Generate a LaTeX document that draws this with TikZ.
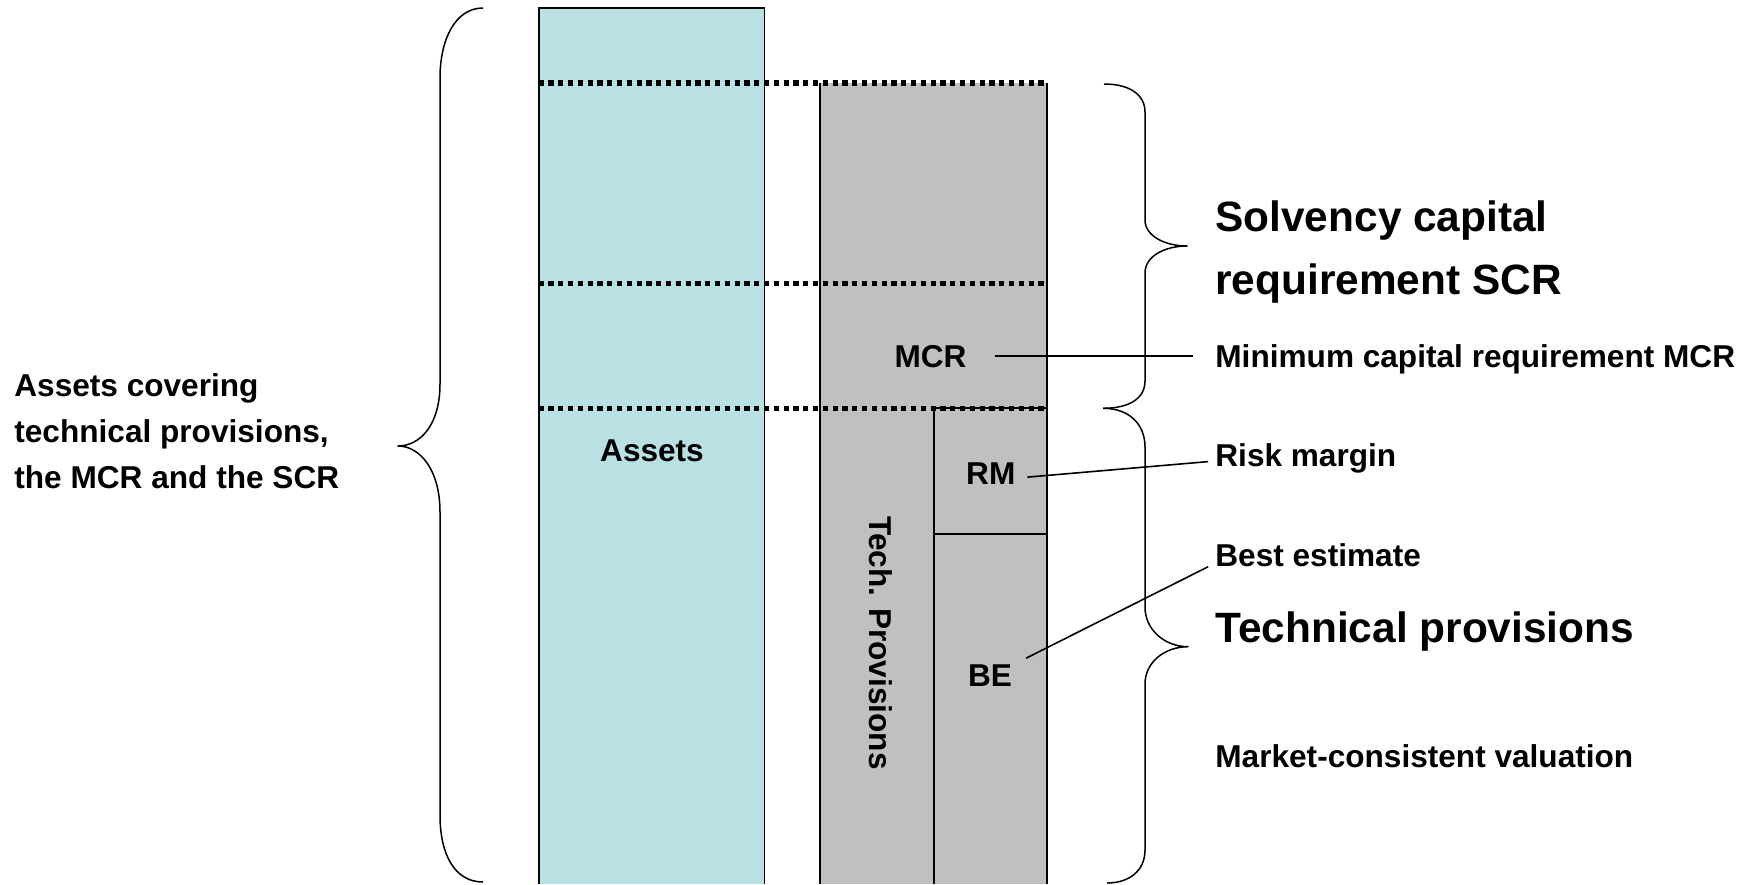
\documentclass[tikz,border=0pt]{standalone}
\usepackage{fontspec}
\setmainfont{Liberation Sans}
\definecolor{assetblue}{RGB}{185,224,227}
\definecolor{provgray}{RGB}{192,192,192}
\tikzset{
boxtext/.style={ % labels inside and beside the columns
font=\fontsize{15.8}{22.9}\selectfont\bfseries,
inner sep=0pt},
sidetext/.style={boxtext, anchor=base west},
headtext/.style={ % the two big headings on the right
font=\fontsize{21.2}{31.5}\selectfont\bfseries,
inner sep=0pt, anchor=base west, align=left},
leader/.style={draw, line width=0.8pt},
cutline/.style={line width=2.6pt, dash pattern=on 2.6pt off 2.3pt}, % dotted levels
brace/.style={line width=0.75pt, line join=round}}

\begin{document}
\begin{tikzpicture}[x=0.5pt,y=-0.5pt]
\useasboundingbox (0,0) rectangle (1762,884);
% columns
\fill[assetblue] (538.5,8) rectangle (764.8,884);
\fill[provgray] (820,83) rectangle (1046.5,884);
\draw[line width=1pt] (538.5,884) |- (764.8,8);
\draw[line width=0.6pt] (764.8,8) -- (764.8,884);
\draw[line width=0.6pt] (820,884) -- (820,83);
\draw[line width=1pt] (1046.5,83) -- (1046.5,884);
\draw[line width=1pt] (934,884) |- (1046.5,408.3);
\draw[line width=1pt] (934,534) -- (1046.5,534);
% levels
\foreach \y in {83,283.3,408.3}
  \draw[cutline] (538.5,\y) -- (1046.5,\y);
% braces
\draw[brace] (483,8) .. controls (455,8) and (440,40) .. (440,78) -- (440,384)
  .. controls (440,425) and (420,446) .. (398,446)
  .. controls (420,446) and (440,470) .. (440,512) -- (440,815)
  .. controls (440,855) and (455,882) .. (483,882);
\draw[brace] (1104,84) .. controls (1130,84) and (1145,95) .. (1145,112) -- (1145,220)
  .. controls (1145,236) and (1165,246) .. (1187,246)
  .. controls (1165,246) and (1145,256) .. (1145,273) -- (1145,381)
  .. controls (1145,398) and (1130,408.3) .. (1103,408.3);
\draw[brace] (1103,408.3) .. controls (1130,408.3) and (1145,425) .. (1145,447) -- (1145,607)
  .. controls (1145,630) and (1165,646.7) .. (1188,646.7)
  .. controls (1165,646.7) and (1145,662) .. (1145,684) -- (1145,850)
  .. controls (1145,870) and (1130,883) .. (1107,883);
% labels in the columns
\node[boxtext, anchor=base] (assets) at (652,461) {Assets};
\node[boxtext, anchor=base, rotate=-90] (tp) at (869,643) {Tech. Provisions};
\node[boxtext, anchor=base] (mcr) at (930.5,367) {MCR};
\node[boxtext, anchor=base] (rm) at (990.8,484) {RM};
\node[boxtext, anchor=base] (be) at (990,686) {BE};
% left text (base is the last line)
\node[boxtext, anchor=base west, align=left] (cover) at (14,488.3)
  {Assets covering\\technical provisions,\\the MCR and the SCR};
% right texts
\node[headtext] (scr) at (1215,294) {Solvency capital\\requirement SCR};
\node[sidetext] (mincap) at (1215,367) {Minimum capital requirement MCR};
\node[sidetext] (risk) at (1215,466.7) {Risk margin};
\node[sidetext] (best) at (1215,566.7) {Best estimate};
\node[headtext] (techprov) at (1215,642.7) {Technical provisions};
\node[sidetext] (mcv) at (1215,767) {Market-consistent valuation};
% leaders
\draw[leader] ([xshift=14.2pt]mcr.east) -- ([xshift=-11.2pt]mcr.east -| mincap.west);
\draw[leader] ([xshift=5.8pt,yshift=-2pt]rm.east) -- ([xshift=-3.4pt,yshift=-1.5pt]risk.west);
\draw[leader] ([xshift=6.9pt,yshift=2.85pt]be.north east) -- ([xshift=-3.4pt]best.base west);
\end{tikzpicture}
\end{document}
